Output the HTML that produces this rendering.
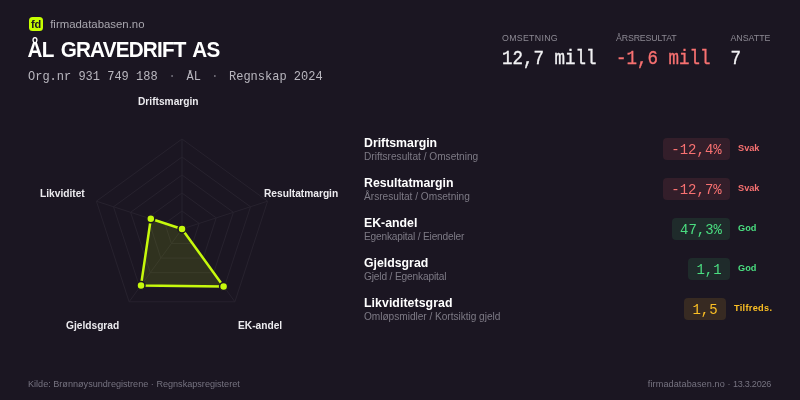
<!DOCTYPE html>
<html lang="no">
<head>
<meta charset="utf-8">
<title>ÅL GRAVEDRIFT AS – firmadatabasen.no</title>
<style>
*{margin:0;padding:0;box-sizing:border-box}
html,body{width:800px;height:400px;overflow:hidden;background:#1b1622}
body{position:relative;font-family:"Liberation Sans",sans-serif;color:#f2f2f4}
.abs{position:absolute;white-space:nowrap;line-height:1}
.mono{font-family:"Liberation Mono",monospace}
.logo{position:absolute;left:28.9px;top:16.5px;width:14.4px;height:14.6px;border-radius:3.5px;background:#c6ff00;color:#1b1622;font-weight:700;font-size:11px;line-height:15px;text-align:center;letter-spacing:-0.2px}
.brand{left:50.2px;top:18.5px;font-size:11.4px;color:#a9a7af}
.title{left:27.5px;top:40.3px;font-size:20.7px;font-weight:700;color:#fff;letter-spacing:-0.8px;word-spacing:2.6px;transform:scaleY(1.06);transform-origin:0 80%}
.sub{top:70.5px;font-size:12px;color:#b9b7bf;transform:scaleY(1.05);transform-origin:0 80%}
.dot{color:#77747f}
.statl{top:34px;font-size:8.8px;color:#8d8a94;letter-spacing:0.1px}
.statv{top:51.2px;font-size:17.5px;color:#f2f2f4;-webkit-text-stroke:0.3px currentColor;transform:scaleY(1.14);transform-origin:0 78%}
.red{color:#f87171}.green{color:#4ade80}.yellow{color:#fbbf24}
.rl{font-size:10.2px;margin-top:1px;font-weight:700;color:#ecebef}
.row{position:absolute;left:364px;width:408px;height:40px}
.row .t{position:absolute;left:0;top:7.7px;font-size:12.3px;font-weight:700;color:#fff;white-space:nowrap;line-height:1}
.row .s{position:absolute;left:0;top:22.7px;font-size:10.15px;color:#7d7a85;white-space:nowrap;line-height:1}
.badge{position:absolute;top:9px;height:22px;border-radius:4px;font-family:"Liberation Mono",monospace;font-size:14px;line-height:22px;text-align:center;white-space:nowrap}
.b-red{background:#331e2a;color:#f87171}
.b-green{background:#1f2b2b;color:#4ade80}
.b-yellow{background:#372a22;color:#fbbf24}
.badge span{display:inline-block;transform:scaleY(1.08);transform-origin:50% 72%;position:relative;top:0.8px}
.lab{position:absolute;top:15.3px;font-size:9.2px;font-weight:700;white-space:nowrap;line-height:1}
.foot{top:380px;font-size:9.1px;color:#767380}
</style>
</head>
<body>
<div class="logo">fd</div>
<div class="abs brand">firmadatabasen.no</div>
<div class="abs title">ÅL GRAVEDRIFT AS</div>
<div class="abs mono sub" style="left:28px">Org.nr 931 749 188</div>
<div class="abs mono sub dot" style="left:168.4px">·</div>
<div class="abs mono sub" style="left:186.6px">ÅL</div>
<div class="abs mono sub dot" style="left:211.2px">·</div>
<div class="abs mono sub" style="left:229px">Regnskap 2024</div>

<div class="abs statl" style="left:502px;letter-spacing:0.3px">OMSETNING</div>
<div class="abs mono statv" style="left:502px">12,7 mill</div>
<div class="abs statl" style="left:616px;letter-spacing:-0.15px">ÅRSRESULTAT</div>
<div class="abs mono statv red" style="left:616px">-1,6 mill</div>
<div class="abs statl" style="left:730.5px;letter-spacing:0">ANSATTE</div>
<div class="abs mono statv" style="left:730.5px">7</div>

<svg class="abs" style="left:0;top:90px" width="364" height="270" viewBox="0 90 364 270">
  <g fill="none" stroke="#27222e" stroke-width="1">
    <polygon points="182,139 267.6,201.2 234.9,301.8 129.1,301.8 96.4,201.2"/>
    <polygon points="182,157 250.5,206.8 224.3,287.2 139.7,287.2 113.5,206.8"/>
    <polygon points="182,175 233.4,212.3 213.7,272.7 150.3,272.7 130.6,212.3"/>
    <polygon points="182,193 216.2,217.9 203.2,258.1 160.8,258.1 147.8,217.9"/>
    <polygon points="182,211 199.1,223.4 192.6,243.6 171.4,243.6 164.9,223.4"/>
    <path d="M182,229L182,139M182,229L267.6,201.2M182,229L234.9,301.8M182,229L129.1,301.8M182,229L96.4,201.2"/>
  </g>
  <polygon points="182,229 182,229 223.6,286.4 141,285.4 150.8,218.8" fill="rgba(198,249,12,0.125)" stroke="#c6f90c" stroke-width="2.5" stroke-linejoin="round"/>
  <g fill="#c6f90c" stroke="#1b1622" stroke-width="1.5">
    <circle cx="182" cy="229" r="4"/>
    <circle cx="223.6" cy="286.4" r="4"/>
    <circle cx="141" cy="285.4" r="4"/>
    <circle cx="150.8" cy="218.8" r="4"/>
  </g>
</svg>
<div class="abs rl" style="left:138px;top:96px">Driftsmargin</div>
<div class="abs rl" style="left:264px;top:188px">Resultatmargin</div>
<div class="abs rl" style="left:238px;top:320px">EK-andel</div>
<div class="abs rl" style="left:66px;top:320px">Gjeldsgrad</div>
<div class="abs rl" style="left:40px;top:188px">Likviditet</div>

<div class="row" style="top:129px"><div class="t">Driftsmargin</div><div class="s">Driftsresultat / Omsetning</div>
  <div class="badge b-red" style="left:299px;width:67px"><span>-12,4%</span></div><div class="lab red" style="left:374px">Svak</div></div>
<div class="row" style="top:169px"><div class="t">Resultatmargin</div><div class="s">Årsresultat / Omsetning</div>
  <div class="badge b-red" style="left:299px;width:67px"><span>-12,7%</span></div><div class="lab red" style="left:374px">Svak</div></div>
<div class="row" style="top:209px"><div class="t">EK-andel</div><div class="s" style="letter-spacing:-0.17px">Egenkapital / Eiendeler</div>
  <div class="badge b-green" style="left:308px;width:58px"><span>47,3%</span></div><div class="lab green" style="left:374px">God</div></div>
<div class="row" style="top:249px"><div class="t">Gjeldsgrad</div><div class="s" style="letter-spacing:-0.14px">Gjeld / Egenkapital</div>
  <div class="badge b-green" style="left:324px;width:42px"><span>1,1</span></div><div class="lab green" style="left:374px">God</div></div>
<div class="row" style="top:289px"><div class="t" style="letter-spacing:0.07px">Likviditetsgrad</div><div class="s" style="letter-spacing:-0.03px">Omløpsmidler / Kortsiktig gjeld</div>
  <div class="badge b-yellow" style="left:320px;width:42px"><span>1,5</span></div><div class="lab yellow" style="left:370px;letter-spacing:0.3px">Tilfreds.</div></div>

<div class="abs foot" style="left:28px">Kilde: Brønnøysundregistrene · Regnskapsregisteret</div>
<div class="abs foot" style="right:29px"><span style="letter-spacing:0.1px">firmadatabasen.no</span> · <span style="letter-spacing:-0.27px">13.3.2026</span></div>
</body>
</html>
